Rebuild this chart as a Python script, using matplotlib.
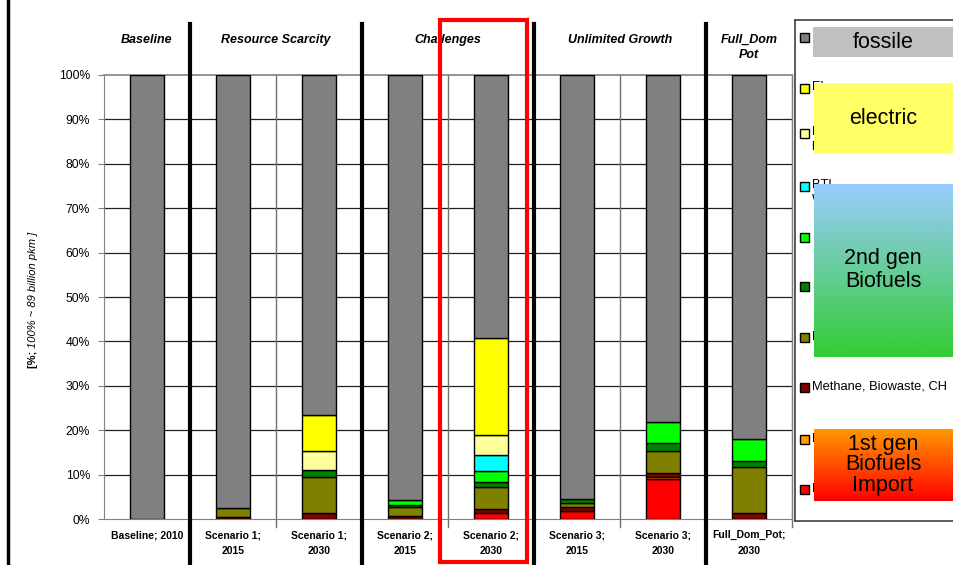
import numpy as np
import matplotlib
matplotlib.use('Agg')
import matplotlib.pyplot as plt
from matplotlib.patches import Rectangle
from matplotlib.transforms import blended_transform_factory

plt.rcParams['font.family'] = ['Liberation Sans', 'DejaVu Sans']

# categories (bars) and group headers
categories = ['Baseline; 2010', 'Scenario 1;\n2015', 'Scenario 1;\n2030', 'Scenario 2;\n2015',
              'Scenario 2;\n2030', 'Scenario 3;\n2015', 'Scenario 3;\n2030', 'Full_Dom_Pot;\n2030']
groups = ['Baseline', 'Resource Scarcity', 'Challenges', 'Unlimited Growth', 'Full_Dom\nPot']
group_centers = [0, 1.5, 3.5, 5.5, 7]

# series, bottom to top of each stack (% of pkm)
red = [0, 0, 0, 0, 1.3, 1.7, 9.0, 0]
orange = [0, 0, 0, 0, 0, 0, 0.4, 0]
darkred = [0, 0.5, 1.3, 0.7, 1.0, 0.9, 0.9, 1.3]
olive = [0, 2.0, 8.2, 1.9, 5.0, 1.1, 5.1, 10.3]
darkgreen = [0, 0, 1.5, 0.6, 1.1, 0.7, 1.7, 1.5]
green = [0, 0, 0, 1.0, 2.4, 0, 4.8, 4.9]
cyan = [0, 0, 0, 0, 3.7, 0, 0, 0]
lightyellow = [0, 0, 4.4, 0, 4.4, 0, 0, 0]
yellow = [0, 0, 8.0, 0, 21.9, 0, 0, 0]
fossil = [100, 97.5, 76.6, 95.8, 59.2, 95.6, 78.1, 82.0]

series = [red, orange, darkred, olive, darkgreen, green, cyan, lightyellow, yellow, fossil]
colors = ['#ff0000', '#ff9900', '#800000', '#808000', '#008000', '#00ff00',
          '#00ffff', '#ffff99', '#ffff00', '#808080']
# legend texts (mostly hidden under the overlay boxes, as in the original)
legend_labels = ['Bio', 'Bio', 'Methane, Biowaste, CH', 'Bio', 'SNG', 'SNG',
                 'BTL\nW', 'El\nkWh, CH', 'El', 'Fo']

fig = plt.figure(figsize=(9.54, 5.65), dpi=100)
ax = fig.add_axes([104 / 954, 1 - 519 / 565, 688 / 954, 444 / 565])

x = np.arange(len(categories))
bottom = np.zeros(len(categories))
for vals, col in zip(series, colors):
    vals = np.array(vals, dtype=float)
    ax.bar(x, vals, 0.4, bottom=bottom, color=col, edgecolor='black',
           linewidth=np.where(vals > 0, 1.0, 0), zorder=3)
    bottom += vals

ax.set_xlim(-0.5, 7.5)
ax.set_ylim(0, 100)
ax.set_yticks(np.arange(0, 101, 10))
ax.set_yticklabels([f'{v}%' for v in range(0, 101, 10)], fontsize=8.7)
ax.tick_params(axis='y', length=4, color='#808080', pad=6)
ax.set_xticks(x)
ax.set_xticklabels(categories, fontsize=7.5, fontweight='bold', linespacing=1.7)
ax.tick_params(axis='x', length=0, pad=8)
for yv in range(10, 100, 10):
    ax.axhline(yv, color='#202020', lw=0.9, zorder=1)
for s in ax.spines.values():
    s.set_color('#808080')
ax.spines['top'].set_linewidth(1.2)

# thin separators inside groups, thick ones between groups
for xv in [1.5, 3.5, 5.5, 7.5]:
    ax.axvline(xv, ymin=-0.018, ymax=1, color='#707070', lw=1.0, clip_on=False, zorder=2)
for xv in [0.5, 2.5, 4.5, 6.5]:
    ax.axvline(xv, ymin=-0.104, ymax=1.115, color='black', lw=3, clip_on=False, zorder=4)

trans = blended_transform_factory(ax.transData, ax.transAxes)
for g, c in zip(groups, group_centers):
    ax.text(c, 1.062 if '\n' in g else 1.079, g, transform=trans, ha='center', va='center',
            fontsize=9, fontweight='bold', style='italic', linespacing=1.3)

# highlighted scenario
ax.add_patch(Rectangle((3.407, -0.097), 1.012, 1.221, transform=trans, fill=False,
                       edgecolor='red', lw=3, clip_on=False, zorder=5))

# y label
fig.text(33 / 954, 1 - 348 / 565, '[%; ', rotation=90, fontsize=8, fontweight='bold',
         ha='center', va='top')
fig.text(33 / 954, 1 - 348 / 565, '100% ~ 89 billion pkm ]', rotation=90, fontsize=8,
         style='italic', ha='center', va='bottom')

# left border line
fig.add_artist(plt.Line2D([8 / 954, 8 / 954], [0, 1], color='black', lw=2.5))

# legend panel
lax = fig.add_axes([795 / 954, 1 - 521 / 565, 160 / 954, 501 / 565])
lax.set_xticks([])
lax.set_yticks([])
for s in lax.spines.values():
    s.set_color('#404040')
    s.set_linewidth(1.2)
rows = [470, 420, 368, 318, 267, 217, 166, 113, 68, 17]
for lab, col, yr in zip(legend_labels, colors, rows):
    lax.add_patch(Rectangle((5, yr - 4.5), 9, 9, facecolor=col, edgecolor='black', lw=1))
    lax.text(17, yr - 7, lab, fontsize=9.3, va='top', ha='left', linespacing=1.3)

# overlay boxes
lax.add_patch(Rectangle((18, 7), 145, 30, facecolor='#c0c0c0', edgecolor='none', zorder=5))
lax.text(88, 22, 'fossile', fontsize=15.5, ha='center', va='center', zorder=6)
lax.add_patch(Rectangle((19, 63), 145, 71, facecolor='#ffff66', edgecolor='none', zorder=5))
lax.text(88, 98, 'electric', fontsize=15.5, ha='center', va='center', zorder=6)

grad = np.linspace(0, 1, 100)[:, None, None]
top2, bot2 = np.array([0.6, 0.8, 1.0]), np.array([0.2, 0.8, 0.2])
img2 = top2 * (1 - grad) + bot2 * grad
lax.imshow(img2, extent=(19, 164, 337, 164), aspect='auto', zorder=5)
lax.text(88, 250, '2nd gen\nBiofuels', fontsize=15.5, ha='center', va='center',
         linespacing=1.15, zorder=6)
top1, bot1 = np.array([1.0, 0.6, 0.0]), np.array([1.0, 0.0, 0.0])
img1 = top1 * (1 - grad) + bot1 * grad
lax.imshow(img1, extent=(19, 164, 481, 409), aspect='auto', zorder=5)
lax.text(88, 445, '1st gen\nBiofuels\nImport', fontsize=15.5, ha='center', va='center',
         linespacing=0.98, zorder=6)
lax.set_xlim(0, 160)
lax.set_ylim(501, 0)

fig.savefig('out.png', dpi=100)
